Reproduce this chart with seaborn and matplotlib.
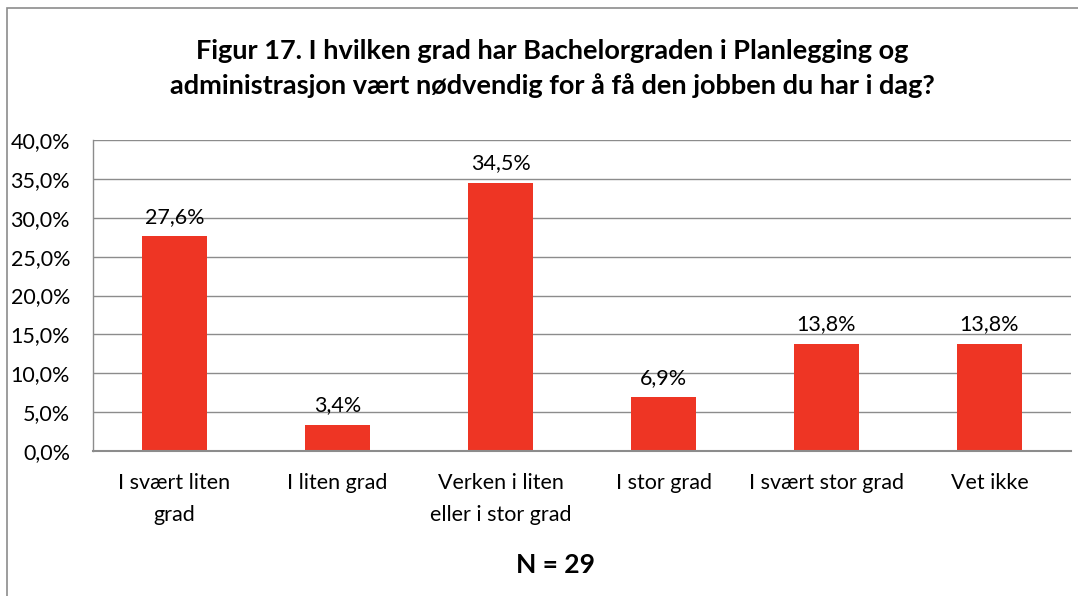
import matplotlib
matplotlib.use("Agg")
import matplotlib.pyplot as plt
import seaborn as sns
import pandas as pd
from matplotlib.patches import Rectangle
from matplotlib.ticker import FuncFormatter, MultipleLocator

categories = ["I svært liten\ngrad", "I liten grad", "Verken i liten\neller i stor grad",
              "I stor grad", "I svært stor grad", "Vet ikke"]
values = [27.6, 3.4, 34.5, 6.9, 13.8, 13.8]
title = "Figur 17. I hvilken grad har Bachelorgraden i Planlegging og\nadministrasjon vært nødvendig for å få den jobben du har i dag?"
note = "N = 29"

sns.set_theme(style="white")
plt.rcParams['font.family'] = ['Lato', 'DejaVu Sans']
plt.rcParams['text.color'] = 'black'

df = pd.DataFrame({"cat": categories, "val": values})

fig = plt.figure(figsize=(10.78, 5.96), dpi=100)
ax = fig.add_axes([93/1078, 1-451/596, (1071-93)/1078, (451-140)/596])

sns.barplot(data=df, x="cat", y="val", color="#EE3524", width=0.4, ax=ax,
            saturation=1, edgecolor="none")

ax.set_ylim(0, 40)
ax.yaxis.set_major_locator(MultipleLocator(5))
ax.yaxis.set_major_formatter(FuncFormatter(lambda v, p: f"{v:.1f}%".replace(".", ",")))
ax.grid(axis="y", color="#8c8c8c", linewidth=1.0)
ax.set_axisbelow(True)
ax.set_xlabel("")
ax.set_ylabel("")
for s in ["top", "right"]:
    ax.spines[s].set_visible(False)
ax.spines["left"].set_color("#8c8c8c")
ax.spines["bottom"].set_color("#8c8c8c")
ax.spines["left"].set_linewidth(1.0)
ax.spines["bottom"].set_linewidth(1.5)
ax.tick_params(axis="y", labelsize=15.5, length=0, pad=16.5, colors="black")
ax.tick_params(axis="x", labelsize=15.5, length=0, pad=15.5, colors="black")
for lbl in ax.get_xticklabels():
    lbl.set_linespacing(1.75)

for i, v in enumerate(values):
    ax.annotate(f"{v:.1f}%".replace(".", ","), (i, v), xytext=(0, 7),
                textcoords="offset points", ha="center", va="bottom", fontsize=15.5,
                color="black")

fig.text(552/1078, 1-68.5/596, title, ha="center", va="center", fontsize=19.5,
         fontweight="bold", linespacing=1.5, color="black")
fig.text(555/1078, 1-565/596, note, ha="center", va="center", fontsize=19,
         fontweight="bold", color="black")

fig.patches.append(Rectangle((7/1078, -0.1), 1.2, 1 - 8/596 + 0.1,
                             transform=fig.transFigure, fill=False,
                             edgecolor="#8c8c8c", linewidth=1.2))

fig.savefig("out.png", dpi=100)
